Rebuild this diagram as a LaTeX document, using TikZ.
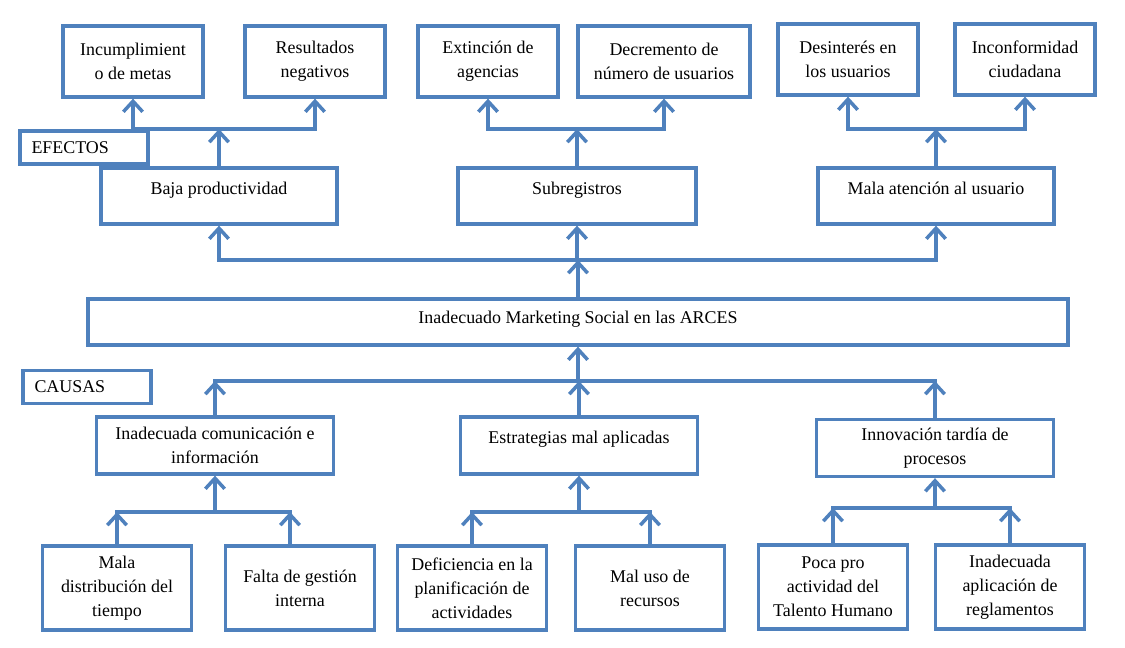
\documentclass[tikz,border=0pt]{standalone}
\usepackage{fontspec}
\setmainfont{Liberation Serif}
\usepackage{xcolor}
\usetikzlibrary{arrows.meta}
\definecolor{lineblue}{RGB}{79,129,189}
\makeatletter
\renewcommand\small{%
  \@setfontsize\small{10.2pt}{13.6pt}%
}
\makeatother

\begin{document}
\begin{tikzpicture}[x=0.02cm, y=-0.02cm, >={Straight Barb[length=6pt,width=11pt]},
  every node/.style={font=\small},
  box/.style={draw=lineblue, line width=1.9pt, align=center, inner sep=2pt},
  efbox/.style={box, minimum width=2.8cm, minimum height=1.42cm},
  midbox/.style={box, minimum width=4.72cm, inner ysep=0pt, text height=0.54cm, text depth=0.58cm},
  caubox/.style={box, minimum width=4.74cm, minimum height=1.14cm},
  lowbox/.style={box, minimum width=2.98cm, minimum height=1.68cm},
  tag/.style={box, text width=2.1cm, inner xsep=0.23cm, align=left, minimum height=0.66cm},
  line/.style={draw=lineblue, line width=2pt}]
  \useasboundingbox (0,0) rectangle (1125,648);

  % efectos
  \node[efbox] (incum) at (133,61.5) {Incumplimient\\o de metas};
  \node[efbox] (result) at (315,61.5) {Resultados\\negativos};
  \node[efbox] (extin) at (488,61.5) {Extinción de\\agencias};
  \node[efbox, minimum width=3.44cm] (decre) at (664,61.5) {Decremento de\\número de usuarios};
  \node[efbox] (desin) at (848,59.5) {Desinterés en\\los usuarios};
  \node[efbox] (inconf) at (1025,59.5) {Inconformidad\\ciudadana};
  \node[tag] (efectos) at (84,147.5) {EFECTOS};

  \node[midbox] (baja) at (219,196) {Baja productividad};
  \node[midbox, minimum width=4.76cm] (subreg) at (577,196) {Subregistros};
  \node[midbox] (mala) at (936,196) {Mala atención al usuario};

  % problema central
  \node[box, minimum width=19.6cm, inner ysep=0pt, text height=0.48cm, text depth=0.44cm] (arces) at (578,322) {Inadecuado Marketing Social en las ARCES};

  % causas
  \node[tag] (causas) at (87,387) {CAUSAS};
  \node[caubox] (comun) at (215,445.5) {Inadecuada comunicación e\\información};
  \node[caubox, inner ysep=0pt, text height=0.52cm, text depth=0.62cm] (estrat) at (579,445.5) {Estrategias mal aplicadas};
  \node[caubox] (innov) at (935,448) {Innovación tardía de\\procesos};

  \node[lowbox] (distr) at (117,588) {Mala\\distribución del\\tiempo};
  \node[lowbox] (gestion) at (300,588) {Falta de gestión\\interna};
  \node[lowbox] (planif) at (472,588) {Deficiencia en la\\planificación de\\actividades};
  \node[lowbox] (recur) at (650,588) {Mal uso de\\recursos};
  \node[lowbox] (talento) at (833,587) {Poca pro\\actividad del\\Talento Humano};
  \node[lowbox] (reglam) at (1010,587) {Inadecuada\\aplicación de\\reglamentos};

  \coordinate (jtop) at (0,129);
  \coordinate (jmid) at (0,260);
  \coordinate (jcau) at (0,381);
  \coordinate (jbot) at (0,512);
  \coordinate (jbotr) at (0,508);

  % efectos: ramas superiores
  \draw[line,->] (baja.north) -- (baja.north |- jtop);
  \draw[line, line cap=rect] (incum.south |- jtop) -- (result.south |- jtop);
  \draw[line,->] (incum.south |- jtop) -- (incum.south);
  \draw[line,->] (result.south |- jtop) -- (result.south);

  \draw[line,->] (subreg.north) -- (subreg.north |- jtop);
  \draw[line, line cap=rect] (extin.south |- jtop) -- (decre.south |- jtop);
  \draw[line,->] (extin.south |- jtop) -- (extin.south);
  \draw[line,->] (decre.south |- jtop) -- (decre.south);

  \draw[line,->] (mala.north) -- (mala.north |- jtop);
  \draw[line, line cap=rect] (desin.south |- jtop) -- (inconf.south |- jtop);
  \draw[line,->] (desin.south |- jtop) -- (desin.south);
  \draw[line,->] (inconf.south |- jtop) -- (inconf.south);

  % problema -> efectos
  \draw[line,->] (arces.north) -- (arces.north |- jmid);
  \draw[line, line cap=rect] (baja.south |- jmid) -- (mala.south |- jmid);
  \draw[line,->] (baja.south |- jmid) -- (baja.south);
  \draw[line,->] (subreg.south |- jmid) -- (subreg.south);
  \draw[line,->] (mala.south |- jmid) -- (mala.south);

  % causas -> problema
  \draw[line, line cap=rect] (comun.north |- jcau) -- (innov.north |- jcau);
  \draw[line,->] (comun.north) -- (comun.north |- jcau);
  \draw[line,->] (estrat.north) -- (estrat.north |- jcau);
  \draw[line,->] (innov.north) -- (innov.north |- jcau);
  \draw[line,->] (arces.south |- jcau) -- (arces.south);

  % subcausas
  \draw[line, line cap=rect] (distr.north |- jbot) -- ([xshift=-0.2cm]gestion.north |- jbot);
  \draw[line,->] (distr.north) -- (distr.north |- jbot);
  \draw[line,->] ([xshift=-0.2cm]gestion.north) -- ([xshift=-0.2cm]gestion.north |- jbot);
  \draw[line,->] (comun.south |- jbot) -- (comun.south);

  \draw[line, line cap=rect] (planif.north |- jbot) -- (recur.north |- jbot);
  \draw[line,->] (planif.north) -- (planif.north |- jbot);
  \draw[line,->] (recur.north) -- (recur.north |- jbot);
  \draw[line,->] (estrat.south |- jbot) -- (estrat.south);

  \draw[line, line cap=rect] (talento.north |- jbotr) -- (reglam.north |- jbotr);
  \draw[line,->] (talento.north) -- (talento.north |- jbotr);
  \draw[line,->] (reglam.north) -- (reglam.north |- jbotr);
  \draw[line,->] (innov.south |- jbotr) -- (innov.south);
\end{tikzpicture}
\end{document}
